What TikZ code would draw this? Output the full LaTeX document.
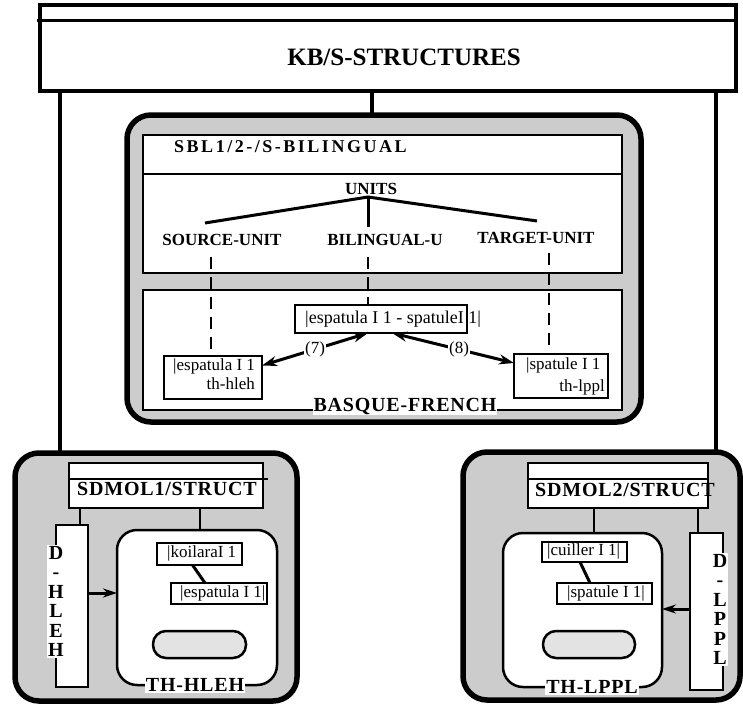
\documentclass[tikz,border=0pt]{standalone}
\usepackage{fontspec}
\setmainfont{Liberation Serif}
\newfontfamily\widebf[LetterSpace=14]{Liberation Serif}
\newfontfamily\semiwidebf[LetterSpace=4]{Liberation Serif}
\usetikzlibrary{arrows.meta,calc}
\definecolor{panelgray}{gray}{0.8}
\definecolor{pillgray}{gray}{0.89}
\newcommand{\fsz}[1]{\fontsize{#1}{#1}\selectfont}

\begin{document}
\begin{tikzpicture}[x=1pt,y=-1pt,
  box/.style={draw, line width=2.5pt, fill=white, inner sep=0pt, outer sep=0pt},
  bigbox/.style={draw, line width=4.5pt, fill=white, inner sep=0pt, outer sep=0pt},
  panel/.style={draw, line width=5.5pt, fill=panelgray, rounded corners=24pt, inner sep=0pt, outer sep=0pt},
  thbox/.style={draw, line width=2.5pt, fill=white, rounded corners=20pt, inner sep=0pt, outer sep=0pt},
  pill/.style={draw, line width=2.5pt, fill=pillgray, rounded corners=13pt, inner sep=0pt, outer sep=0pt},
  link/.style={line width=3pt},
  trunk/.style={line width=4.5pt},
  dashline/.style={line width=2.5pt, dash pattern=on 12pt off 8pt},
  txt/.style={inner sep=0pt, anchor=west, font=\fsz{17}},
  rtxt/.style={inner sep=0pt, anchor=east, font=\fsz{17}},
  lbl/.style={inner sep=0pt, font=\bfseries\fsz{17}},
  tag/.style={fill=white, inner sep=1pt, font=\semiwidebf\bfseries\fsz{20}},
  column/.style={fill=white, inner sep=1pt, align=center, font=\fontsize{20}{19.5}\selectfont\bfseries},
  dbl/.style={line width=3pt, {Stealth[length=15pt,width=10pt]}-{Stealth[length=15pt,width=10pt]}},
  sgl/.style={line width=3pt, -{Stealth[length=14pt,width=9pt]}},
  num/.style={midway, fill=white, inner sep=1pt, font=\fsz{17}}
]
\useasboundingbox (0,0) rectangle (743,704);

% ---------- knowledge base header ----------
\node[bigbox, minimum width=696pt, minimum height=86pt] (kb) at (388,48) {};
\coordinate (kbdiv) at (0,20);
\draw[line width=3pt] ([xshift=-3pt]kb.west |- kbdiv) -- (kb.east |- kbdiv);
\node[inner sep=0pt, font=\bfseries\fsz{25}] (kbtitle) at (404,57) {KB/S-STRUCTURES};

% x positions of the vertical links
\coordinate (lx) at (60,0);
\coordinate (cx) at (372,0);
\coordinate (rx) at (716,0);

% ---------- bilingual panel ----------
\node[panel, minimum width=514pt, minimum height=307pt] (bil) at (384,268.5) {};
\node[box, minimum width=479pt, minimum height=138pt] (sbl) at (382.5,204) {};
\coordinate (sbldiv) at (0,174);
\draw[line width=2.5pt] (sbl.west |- sbldiv) -- (sbl.east |- sbldiv);
\node[inner sep=0pt, anchor=west, font=\widebf\bfseries\fsz{18}] (sbltitle) at (174,147) {SBL1/2-/S-BILINGUAL};

\node[lbl] (units) at (371,189) {UNITS};
\node[lbl] (srcu) at (222,240) {SOURCE-UNIT};
\node[lbl] (bilu) at (385,240) {BILINGUAL-U};
\node[lbl] (tgtu) at (536,238) {TARGET-UNIT};
\coordinate (uroot) at (368,197);
\coordinate (srctop) at (205,223);
\coordinate (biltop) at (368,227);
\coordinate (tgttop) at (537,221);
\draw[link] (srctop) -- (uroot) -- (tgttop);
\draw[link] (uroot) -- (biltop);

\node[box, minimum width=479pt, minimum height=120pt] (bf) at (382.5,350) {};

\node[box, minimum width=172pt, minimum height=28pt] (mb) at (381,319) {};
\node[txt, font=\fsz{18}] (mbt) at (305,319) {|espatula I 1 - spatuleI 1|};

\node[box, minimum width=98pt, minimum height=43pt] (lb) at (213,377.5) {};
\node[txt] (lbt1) at (173,366) {|espatula I 1};
\node[rtxt] (lbt2) at (255,384) {th-hleh};

\node[box, minimum width=94pt, minimum height=44pt] (rb) at (561,376) {};
\node[txt] (rbt1) at (526,365) {|spatule I 1};
\node[rtxt] (rbt2) at (605,387) {th-lppl};

\coordinate (srcfoot) at (211,257);
\coordinate (bilfoot) at (368,257);
\coordinate (tgtfoot) at (549,253);
\draw[dashline] (srcfoot) -- (srcfoot |- lb.north);
\draw[dashline] (bilfoot) -- (bilfoot |- mb.north);
\draw[dashline] (tgtfoot) -- (tgtfoot |- rb.north);

\draw[dbl] ([xshift=-13pt]mb.south) -- node[num] {(7)} ([yshift=12pt]lb.east);
\draw[dbl] ([xshift=11pt]mb.south) -- node[num, pos=0.55] {(8)} ([yshift=13pt]rb.west);

\node[tag] (bftag) at ([yshift=4pt]bf.south -| 405,0) {BASQUE-FRENCH};

% ---------- left monolingual panel ----------
\node[panel, minimum width=282pt, minimum height=248pt] (lp) at (156,577) {};
\node[box, minimum width=194pt, minimum height=45pt] (sd1) at (166,485.5) {};
\coordinate (sddiv) at (0,479);
\draw[line width=2.5pt] (sd1.west |- sddiv) -- ([xshift=5pt]sd1.east |- sddiv);
\node[inner sep=0pt, font=\semiwidebf\bfseries\fsz{20}] (sd1t) at (167,489) {SDMOL1/STRUCT};

\node[box, minimum width=32pt, minimum height=162pt] (dh) at (72,606) {};
\node[column] (dht) at (56,601.5) {D\\-\\H\\L\\E\\H};

\node[thbox, minimum width=160pt, minimum height=155pt] (thh) at (197,607.5) {};
\coordinate (k1) at (80,0);
\coordinate (k2) at (200,0);
\draw[line width=2.5pt] (sd1.south -| k1) -- (dh.north -| k1);
\draw[line width=2.5pt] (sd1.south -| k2) -- (thh.north -| k2);
\draw[sgl] ([yshift=13pt]dh.east) -- ([yshift=13pt]dh.east -| thh.west);

\node[box, minimum width=85pt, minimum height=22pt] (koil) at (199.5,554) {};
\node[txt] (koilt) at (167,553) {|koilaraI 1};
\node[box, minimum width=96pt, minimum height=21pt] (esp) at (219,593.5) {};
\node[txt] (espt) at (180,593) {|espatula I 1|};
\draw[link] ([xshift=-7pt]koil.south) -- ([xshift=-14pt]esp.north);
\node[pill, minimum width=93pt, minimum height=27pt] (lpill) at (199.5,644.5) {};
\node[tag] (thhtag) at (195,685) {TH-HLEH};

% ---------- right monolingual panel ----------
\node[panel, minimum width=277pt, minimum height=248pt] (rp) at (601.5,576) {};
\node[box, minimum width=180pt, minimum height=45pt] (sd2) at (618,485.5) {};
\draw[line width=2.5pt] (sd2.west |- sddiv) -- (sd2.east |- sddiv);
\node[inner sep=0pt, font=\semiwidebf\bfseries\fsz{20}] (sd2t) at (625,490) {SDMOL2/STRUCT};

\node[thbox, minimum width=159pt, minimum height=154pt] (thl) at (582.5,610) {};
\node[box, minimum width=33pt, minimum height=157pt] (dl) at (706.5,611.5) {};
\node[column] (dlt) at (720,609.5) {D\\-\\L\\P\\P\\L};
\coordinate (k3) at (594,0);
\coordinate (k4) at (698,0);
\draw[line width=2.5pt] (sd2.south -| k3) -- (thl.north -| k3);
\draw[line width=2.5pt] (sd2.south -| k4) -- (dl.north -| k4);
\draw[sgl] ([yshift=2.5pt]dl.west) -- ([yshift=2.5pt]dl.west -| thl.east);

\node[box, minimum width=85pt, minimum height=20pt] (cui) at (584.5,552) {};
\node[txt] (cuit) at (547,551) {|cuiller I 1|};
\node[box, minimum width=95pt, minimum height=21pt] (spa) at (604.5,593.5) {};
\node[txt] (spat) at (567,593) {|spatule I 1|};
\draw[link] ([xshift=-4.5pt]cui.south) -- ([xshift=-14.5pt]spa.north);
\node[pill, minimum width=92pt, minimum height=27pt] (rpill) at (589,644.5) {};
\node[tag] (thltag) at (592,687) {TH-LPPL};

% ---------- links from the header ----------
\draw[trunk] (kb.south -| lx) -- (lp.north -| lx);
\draw[trunk] (kb.south -| cx) -- (bil.north -| cx);
\draw[trunk] (kb.south -| rx) -- (rp.north -| rx);
\end{tikzpicture}
\end{document}
